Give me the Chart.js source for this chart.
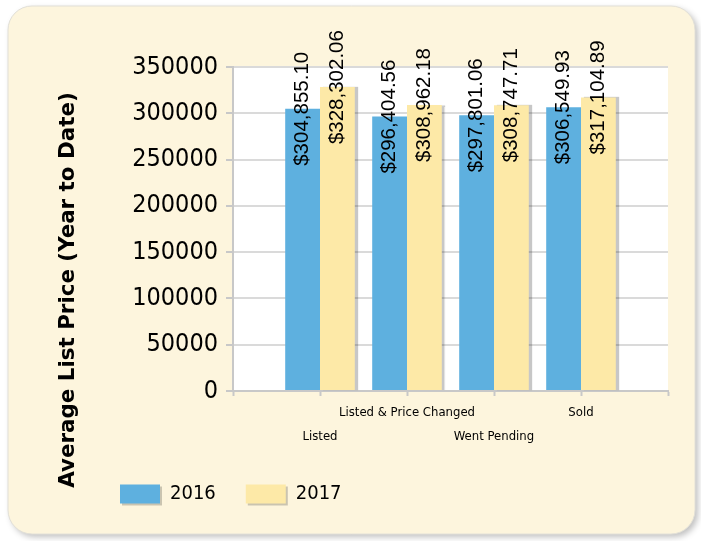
<!DOCTYPE html>
<html>
<head>
<meta charset="utf-8">
<script src="https://cdn.jsdelivr.net/npm/chart.js@4/dist/chart.umd.min.js"></script>
<style>
  body { margin: 0; background: #ffffff; }
  canvas { display: block; }
</style>
</head>
<body>
<canvas id="grafico-precio" width="701" height="541"></canvas>
<script>
/* Datos del grafico */
var categorias = ['', 'Listed', 'Listed & Price Changed', 'Went Pending', 'Sold', ''];
var valores2016 = [null, 304855.10, 296404.56, 297801.06, 306549.93, null];
var valores2017 = [null, 328302.06, 308962.18, 308747.71, 317104.89, null];
var ticksY = [0, 50000, 100000, 150000, 200000, 250000, 300000, 350000];
var tituloY = 'Average List Price (Year to Date)';

/* Fondo crema redondeado, area blanca y sombra de la leyenda */
var fondo = {
    id: 'fondo',
    beforeDraw: function (chart) {
        var ctx = chart.ctx;
        var a = chart.chartArea;
        ctx.save();
        ctx.fillStyle = '#ffffff';
        ctx.fillRect(0, 0, chart.width, chart.height);
        ctx.shadowColor = 'rgba(0, 0, 0, 0.25)';
        ctx.shadowBlur = 6;
        ctx.shadowOffsetX = 3;
        ctx.shadowOffsetY = 3;
        ctx.beginPath();
        ctx.roundRect(8, 6, 687, 528, 24);
        ctx.fillStyle = '#fdf5dd';
        ctx.fill();
        ctx.shadowColor = 'transparent';
        ctx.strokeStyle = '#e2e0d8';
        ctx.lineWidth = 1;
        ctx.stroke();
        ctx.fillStyle = '#ffffff';
        ctx.fillRect(a.left, a.top, a.right - a.left, a.bottom - a.top);
        // sombra de las cajas de la leyenda
        ctx.fillStyle = 'rgba(0, 0, 0, 0.2)';
        (chart.legend.legendHitBoxes || []).forEach(function (hb) {
            ctx.fillRect(hb.left + 2, hb.top + (hb.height - 19) / 2 + 2, 40, 19);
        });
        ctx.restore();
    }
};

/* Sombra de las barras amarillas y etiquetas de valor */
var barras = {
    id: 'barras',
    beforeDatasetDraw: function (chart, args) {
        var ctx = chart.ctx;
        ctx.save();
        if (args.index === 1) {
            ctx.shadowColor = 'rgba(0, 0, 0, 0.22)';
            ctx.shadowBlur = 1;
            ctx.shadowOffsetX = 3;
            ctx.shadowOffsetY = 0;
        }
    },
    afterDatasetDraw: function (chart) {
        chart.ctx.restore();
    },
    afterDatasetsDraw: function (chart) {
        var ctx = chart.ctx;
        ctx.save();
        ctx.font = '20.5px "Liberation Sans", Arial, sans-serif';
        ctx.fillStyle = '#000000';
        ctx.textAlign = 'center';
        ctx.textBaseline = 'middle';
        chart.data.datasets.forEach(function (ds, i) {
            chart.getDatasetMeta(i).data.forEach(function (el, j) {
                var v = ds.data[j];
                if (v === null) return;
                var texto = '$' + v.toLocaleString('en-US', { minimumFractionDigits: 2, maximumFractionDigits: 2 });
                ctx.save();
                ctx.translate(el.x, el.y);
                ctx.rotate(-Math.PI / 2);
                ctx.fillText(texto, 0, 0);
                ctx.restore();
            });
        });
        // titulo del eje Y
        ctx.font = 'bold 21px "DejaVu Sans", Verdana, sans-serif';
        var ancho = ctx.measureText(tituloY).width;
        var tam = 21 * 395 / ancho;
        ctx.font = 'bold ' + tam.toFixed(1) + 'px "DejaVu Sans", Verdana, sans-serif';
        ctx.translate(68, 290);
        ctx.rotate(-Math.PI / 2);
        ctx.fillText(tituloY, 0, 0);
        ctx.restore();
    }
};

var marco = document.getElementById('grafico-precio').getContext('2d');

var grafico = new Chart(marco, {
    type: 'bar',
    data: {
        labels: categorias,
        datasets: [{
            label: '2016',
            data: valores2016,
            backgroundColor: '#5eb0df',
            borderWidth: 0,
            categoryPercentage: 0.8,
            barPercentage: 1.0
        }, {
            label: '2017',
            data: valores2017,
            backgroundColor: '#fde9a7',
            borderWidth: 0,
            categoryPercentage: 0.8,
            barPercentage: 1.0
        }]
    },
    options: {
        responsive: false,
        animation: false,
        layout: {
            padding: { left: 90, right: 33, top: 67, bottom: 27 }
        },
        plugins: {
            tooltip: { enabled: false },
            legend: {
                position: 'bottom',
                align: 'start',
                labels: {
                    boxWidth: 40,
                    boxHeight: 19,
                    padding: 30,
                    color: '#000000',
                    font: { family: '"DejaVu Sans Condensed", Tahoma, sans-serif', size: 20 }
                }
            }
        },
        scales: {
            x: {
                offset: false,
                afterFit: function (scale) { scale.height = 63; },
                grid: {
                    offset: false,
                    drawOnChartArea: false,
                    tickLength: 5,
                    tickColor: '#c8c8c8',
                    tickWidth: 2
                },
                border: { color: '#c8c8c8', width: 2 },
                ticks: {
                    autoSkip: false,
                    maxRotation: 0,
                    minRotation: 0,
                    padding: 5,
                    color: '#000000',
                    font: { family: '"DejaVu Sans Condensed", Tahoma, sans-serif', size: 13, lineHeight: 1.85 },
                    callback: function (valor, indice) {
                        var texto = categorias[indice];
                        if (texto === '') return '';
                        return indice % 2 === 1 ? ['', texto] : [texto, ''];
                    }
                }
            },
            y: {
                min: ticksY[0],
                max: ticksY[ticksY.length - 1],
                afterFit: function (scale) { scale.width = 143; },
                afterBuildTicks: function (scale) {
                    scale.ticks = ticksY.map(function (v) { return { value: v }; });
                },
                grid: {
                    color: '#dadada',
                    lineWidth: 2,
                    tickLength: 7,
                    tickColor: '#c8c8c8'
                },
                border: { color: '#c8c8c8', width: 2 },
                ticks: {
                    padding: 8,
                    color: '#000000',
                    font: { family: '"DejaVu Sans Condensed", Tahoma, sans-serif', size: 25 },
                    callback: function (valor) { return String(valor); }
                }
            }
        }
    },
    plugins: [fondo, barras]
});
</script>
</body>
</html>
